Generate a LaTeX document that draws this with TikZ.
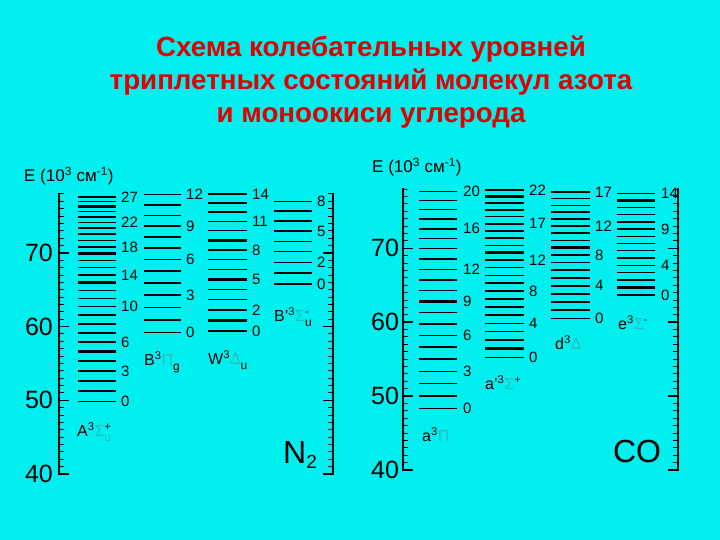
\documentclass[tikz,border=0pt]{standalone}
\usepackage{fontspec}
\setmainfont{Liberation Sans}
\definecolor{bg}{HTML}{00F0F0}
\definecolor{ttl}{HTML}{E00000}
\definecolor{gr}{HTML}{30B8C0}
\newcommand\sbs[1]{\raisebox{-5pt}{\fontsize{12}{12}\selectfont #1}}
\begin{document}
\begin{tikzpicture}[x=1pt,y=-1pt,
  lvl/.style={line width=1.4pt},
  lab/.style={font=\fontsize{15}{15}\selectfont,anchor=west,inner sep=0},
  big/.style={font=\fontsize{25}{25}\selectfont,inner sep=0},
  st/.style={font=\fontsize{16}{16}\selectfont,anchor=west,inner sep=0}]
\fill[bg] (0,0) rectangle (720,540);
\node[font=\bfseries\fontsize{27.7}{33}\selectfont,text=ttl,align=center] (t) at (371,82)
 {Схема колебательных уровней\\триплетных состояний молекул азота\\и моноокиси углерода};
\newcommand\levs[8]{\foreach \v in {0,...,#6}{%
  \pgfmathsetmacro\yy{#7-(#3+#4*\v-#5*\v*\v-40)*#8}%
  \pgfmathtruncatemacro\th{mod(\v,4)==1?1:0}%
  \ifnum\th=1 \draw[line width=2.4pt] (#1,\yy)--(#2,\yy);\else\draw[lvl] (#1,\yy)--(#2,\yy);\fi}}
\newcommand\labs[9]{\foreach \v in {#9}{%
  \pgfmathsetmacro\yy{#7-(#3+#4*\v-#5*\v*\v-40)*#8}%
  \node[lab] at (#1,\yy) {\v};}}
\newcommand\axis[6]{%
  \draw[line width=1.5pt] (#1,#3)--(#1,#4)--(#1+10,#4);
  \draw[line width=1.5pt] (#2,#3)--(#2,#4)--(#2-10,#4);
  \foreach \e in {41,...,78}{\pgfmathsetmacro\yy{#4-(\e-40)*#5}
    \pgfmathtruncatemacro\mj{mod(\e,10)==0?1:0}
    \ifnum\mj=1 \draw[line width=1.5pt] (#1,\yy)--++(10,0) (#2,\yy)--++(-10,0);
    \else \draw[line width=1pt] (#1,\yy)--++(5,0) (#2,\yy)--++(-5,0);\fi}
  \foreach \e in {40,50,60,70}{\node[big] at (#6,{#4-(\e-40)*#5}) {\e};}}
\axis{59}{333}{193}{474}{7.37}{39}
\axis{403}{678}{188}{470}{7.39}{385}
\node[font=\fontsize{17}{17}\selectfont,anchor=west,inner sep=0] (e1) at (24,176) {E (10\textsuperscript{3} см\textsuperscript{-1})};
\node[font=\fontsize{17}{17}\selectfont,anchor=west,inner sep=0] (e2) at (372,167) {E (10\textsuperscript{3} см\textsuperscript{-1})};
% N2
\levs{78}{116}{49.8}{1.443}{0.0153}{27}{474}{7.37}
\labs{121}{}{49.8}{1.443}{0.0153}{}{474}{7.37}{0,3,6,10,14,18,22,27}
\levs{144}{181}{59.2}{1.742}{0.0153}{12}{474}{7.37}
\labs{186}{}{59.2}{1.742}{0.0153}{}{474}{7.37}{0,3,6,9,12}
\levs{208}{247}{59.4}{1.437}{0.0077}{14}{474}{7.37}
\labs{252}{}{59.4}{1.437}{0.0077}{}{474}{7.37}{0,2,5,8,11,14}
\levs{274}{312}{65.8}{1.48}{0.01}{8}{474}{7.37}
\labs{317}{}{65.8}{1.48}{0.01}{}{474}{7.37}{0,2,5,8}
\node[st] (sA) at (77,432) {A\textsuperscript{3}\textcolor{gr}{Σ}\rlap{\textsuperscript{+}}\sbs{\textcolor{gr}{u}}};
\node[st] (sB) at (144,362) {B\textsuperscript{3}\textcolor{gr}{Π}\sbs{g}};
\node[st] (sW) at (208,360) {W\textsuperscript{3}\textcolor{gr}{Δ}\sbs{u}};
\node[st] (sBp) at (274,317) {B'\textsuperscript{3}\textcolor{gr}{Σ}\rlap{\textsuperscript{-}}\sbs{u}};
\node[font=\fontsize{32}{32}\selectfont,inner sep=0] (n2) at (300,455) {N\raisebox{-5pt}{\fontsize{19}{19}\selectfont 2}};
% CO
\levs{419}{457}{48.3}{1.726}{0.0128}{20}{470}{7.39}
\labs{463}{}{48.3}{1.726}{0.0128}{}{470}{7.39}{0,3,6,9,12,16,20}
\levs{485}{524}{55.25}{1.176}{0.00664}{22}{470}{7.39}
\labs{529}{}{55.25}{1.176}{0.00664}{}{470}{7.39}{0,4,8,12,17,22}
\levs{551}{590}{60.5}{1.136}{0.00768}{17}{470}{7.39}
\labs{595}{}{60.5}{1.136}{0.00768}{}{470}{7.39}{0,4,8,12,17}
\levs{617}{655}{63.7}{1.0086}{0.00214}{14}{470}{7.39}
\labs{661}{}{63.7}{1.0086}{0.00214}{}{470}{7.39}{0,4,9,14}
\node[st] (sa) at (422,435) {a\textsuperscript{3}\textcolor{gr}{Π}};
\node[st] (sap) at (485,383) {a'\textsuperscript{3}\textcolor{gr}{Σ}\textsuperscript{+}};
\node[st] (sd) at (555,343) {d\textsuperscript{3}\textcolor{gr}{Δ}};
\node[st] (se) at (618,323) {e\textsuperscript{3}\textcolor{gr}{Σ}\textsuperscript{-}};
\node[font=\fontsize{32}{32}\selectfont,inner sep=0] (co) at (637,451) {CO};
\end{tikzpicture}
\end{document}
